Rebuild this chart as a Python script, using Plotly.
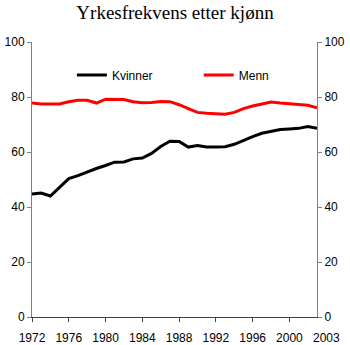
import plotly.graph_objects as go

years = list(range(1972, 2004))
kvinner = [44.7, 45.1, 44.0, 47.3, 50.3, 51.4, 52.8, 54.0, 55.1, 56.3,
           56.4, 57.5, 57.8, 59.5, 62.0, 63.9, 63.8, 61.8, 62.4, 61.8,
           61.8, 61.9, 62.8, 64.3, 65.6, 66.8, 67.6, 68.2, 68.4, 68.6,
           69.3, 68.6]
menn = [77.8, 77.5, 77.5, 77.5, 78.3, 78.8, 78.8, 77.8, 79.2, 79.2,
        79.1, 78.3, 77.9, 78.0, 78.4, 78.3, 77.2, 75.8, 74.4, 74.1,
        73.8, 73.7, 74.4, 75.8, 76.7, 77.4, 78.2, 77.8, 77.6, 77.3,
        77.0, 76.1]
x_tick_vals = [1972, 1976, 1980, 1984, 1988, 1992, 1996, 2000]
x_tick_text = ["1972", "1976", "1980", "1984", "1988", "1992", "1996", "2000"]
last_year = 2003
y_tick_vals = [0, 20, 40, 60, 80, 100]
title_text = "Yrkesfrekvens etter kjønn"

fig = go.Figure()
fig.add_trace(go.Scatter(x=years, y=kvinner, name="Kvinner", mode="lines",
                         line=dict(color="#000000", width=3), legend="legend"))
fig.add_trace(go.Scatter(x=years, y=menn, name="Menn", mode="lines",
                         line=dict(color="#ff0000", width=3), yaxis="y2",
                         legend="legend2"))

tick_font = dict(family="Liberation Sans, Arial, sans-serif", size=12, color="#000000")
yaxis_common = dict(range=[0, 100], tickvals=y_tick_vals, ticks="outside", ticklen=4,
                    tickcolor="#808080", showline=True, linecolor="#808080",
                    linewidth=1, showgrid=False, zeroline=False, tickfont=tick_font,
                    fixedrange=True, automargin=False)

# end-year label, set slightly right of the axis end, level with the other year labels
fig.add_annotation(x=last_year, y=0, xref="x", yref="paper", text=str(last_year),
                   showarrow=False, xanchor="center", yanchor="top", xshift=9,
                   yshift=-12, font=tick_font)

fig.update_layout(
    width=350, height=345,
    margin=dict(l=32, r=33, t=42, b=28, autoexpand=False),
    paper_bgcolor="#ffffff", plot_bgcolor="#ffffff",
    title=dict(text=title_text, x=0.5, xanchor="center", y=0.965, yanchor="middle",
               font=dict(family="Liberation Serif, Times New Roman, serif", size=19,
                         color="#000000")),
    xaxis=dict(range=[1972, last_year], tickvals=x_tick_vals, ticktext=x_tick_text,
               ticks="outside", ticklen=4, tickangle=0, tickcolor="#404040",
               ticklabelstandoff=6,
               showline=True, linecolor="#404040", linewidth=1, showgrid=False,
               zeroline=False, tickfont=tick_font, fixedrange=True, automargin=False),
    yaxis=dict(side="left", **yaxis_common),
    yaxis2=dict(side="right", overlaying="y", **yaxis_common),
    legend=dict(x=0.14, y=0.88, xanchor="left", yanchor="middle",
                bgcolor="rgba(0,0,0,0)", font=tick_font),
    legend2=dict(x=0.585, y=0.88, xanchor="left", yanchor="middle",
                 bgcolor="rgba(0,0,0,0)", font=tick_font),
    showlegend=True,
)

fig.write_html("out.html")
